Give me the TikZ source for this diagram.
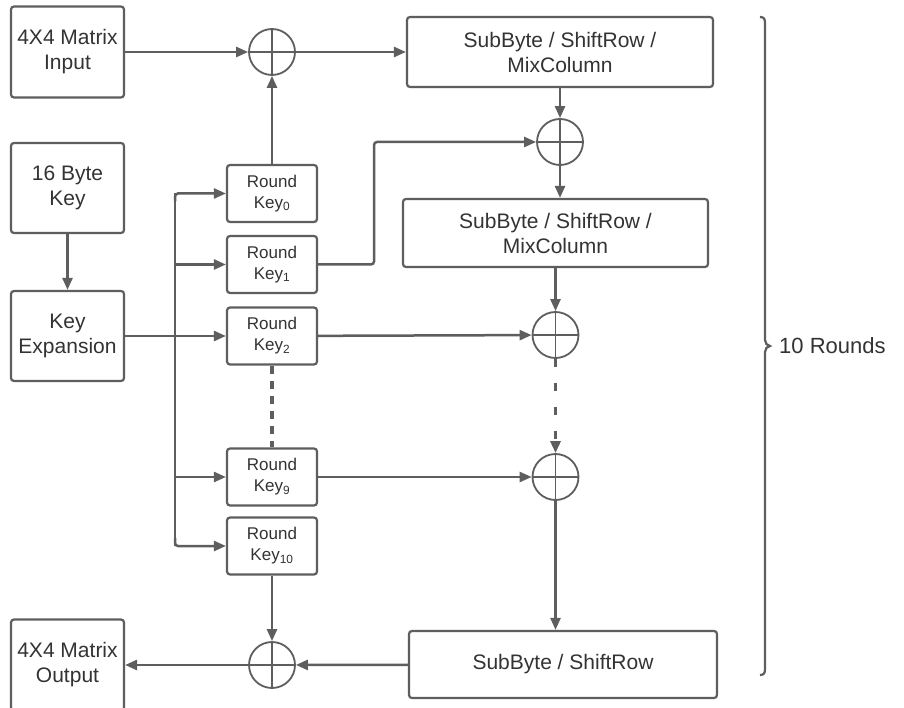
\documentclass[tikz,border=0pt]{standalone}
\usepackage{fontspec}
\setmainfont{Liberation Sans}
\usetikzlibrary{arrows.meta,calc}
\definecolor{lc}{HTML}{5E5E5E}
\definecolor{tc}{HTML}{333333}
\begin{document}
\begin{tikzpicture}[x=1pt,y=-1pt,
  box/.style={draw=lc, line width=2.2pt, rounded corners=3pt, align=center, text=tc,
    font=\fontsize{21}{25}\selectfont, inner sep=0pt},
  sidebox/.style={box, minimum width=113pt, minimum height=90pt},
  keybox/.style={box, minimum width=90pt, minimum height=57pt, font=\fontsize{17}{21}\selectfont},
  xorop/.style={circle, draw=lc, line width=1.8pt, minimum size=46pt, inner sep=0pt,
    path picture={\draw[lc,line width=1.8pt] (path picture bounding box.north) -- (path picture bounding box.south)
      (path picture bounding box.west) -- (path picture bounding box.east);}},
  conn/.style={draw=lc, line width=2.5pt, -{Triangle[length=12pt,width=10pt]}},
  plain/.style={draw=lc, line width=2.5pt},
  dashA/.style={draw=lc, line width=3.4pt, dash pattern=on 8pt off 7pt},
  dashB/.style={draw=lc, line width=3.6pt, dash pattern=on 8pt off 16pt, -{Triangle[length=12pt,width=10pt]}}
]
\useasboundingbox (0,0) rectangle (904,708);
\clip (0,0) rectangle (904,708);
\fill[white] (0,0) rectangle (904,708);

% left column
\node[sidebox, minimum height=91pt] (in) at (67.5,52) {4X4 Matrix\\Input};
\node[sidebox] (kb) at (67.5,188) {16 Byte\\Key};
\node[sidebox] (kexp) at (67.5,336) {Key\\Expansion};
\node[sidebox, minimum height=91pt] (out) at (67.5,665) {4X4 Matrix\\Output};

% round keys
\node[keybox] (k0) at (272,193.5) {Round\\Key\textsubscript{0}};
\node[keybox] (k1) at (272,264.5) {Round\\Key\textsubscript{1}};
\node[keybox] (k2) at (272,336) {Round\\Key\textsubscript{2}};
\node[keybox] (k9) at (272,477) {Round\\Key\textsubscript{9}};
\node[keybox] (k10) at (272,546) {Round\\Key\textsubscript{10}};

% xor circles
\node[xorop] (x0) at (272,52) {};
\node[xorop] (x1) at (560,142) {};
\node[xorop] (x2) at (555.5,335) {};
\node[xorop] (x9) at (555.5,477) {};
\node[xorop] (x10) at (272,665) {};

% round boxes
\node[box, minimum width=306pt, minimum height=70pt] (b1) at (560,52) {SubByte / ShiftRow /\\MixColumn};
\node[box, minimum width=305pt, minimum height=68pt] (b2) at (555.5,233) {SubByte / ShiftRow /\\MixColumn};
\node[box, minimum width=308pt, minimum height=67pt] (b3) at (563,664.5) {SubByte / ShiftRow};

% bus coordinates
\coordinate (busx) at (175,0);
\coordinate (k1bend) at (374,0);

% connectors
\draw[conn] (in) -- (x0);
\draw[conn] (x0) -- (b1);
\draw[conn] (k0) -- (x0);
\draw[conn] (b1) -- (x1);
\draw[conn] (x1.south) -- (x1.south |- b2.north);
\draw[conn] (b2) -- (x2);
\draw[dashB] (x2) -- (x9);
\draw[conn] (x9.south) -- (x9.south |- b3.north);
\draw[conn] (b3) -- (x10);
\draw[conn] (x10) -- (out);
\draw[conn] (k10) -- (x10);
\draw[conn] (kb) -- (kexp);
\draw[conn] (kexp) -- (k2);
\draw[conn] (k2) -- (x2);
\draw[conn] (k9) -- (x9);
\draw[conn, rounded corners=3pt] (k1.east) -- (k1.east -| k1bend) -- (k1bend |- x1.west) -- (x1.west);
\draw[dashA] (k2.south) -- (k9.north);

% key bus
\draw[plain] (k0.west -| busx) -- (k10.west -| busx);
\draw[conn, rounded corners=3pt] (busx |- k0.west) ++(0,8) -- (busx |- k0.west) -- (k0.west);
\draw[conn] (busx |- k1.west) -- (k1.west);
\draw[conn] (busx |- k9.west) -- (k9.west);
\draw[conn, rounded corners=3pt] (busx |- k10.west) ++(0,-8) -- (busx |- k10.west) -- (k10.west);

% brace
\draw[lc, line width=2.2pt] (760,17) .. controls (764,17) and (765,19) .. (765,23) -- (765,340)
  .. controls (765,343) and (767,346) .. (770,346)
  .. controls (767,346) and (765,349) .. (765,352) -- (765,669)
  .. controls (765,673) and (764,675) .. (760,675);
\node[anchor=west, text=tc, font=\fontsize{22}{26}\selectfont, inner sep=0pt] (rounds) at (779,346) {10 Rounds};
\end{tikzpicture}
\end{document}
